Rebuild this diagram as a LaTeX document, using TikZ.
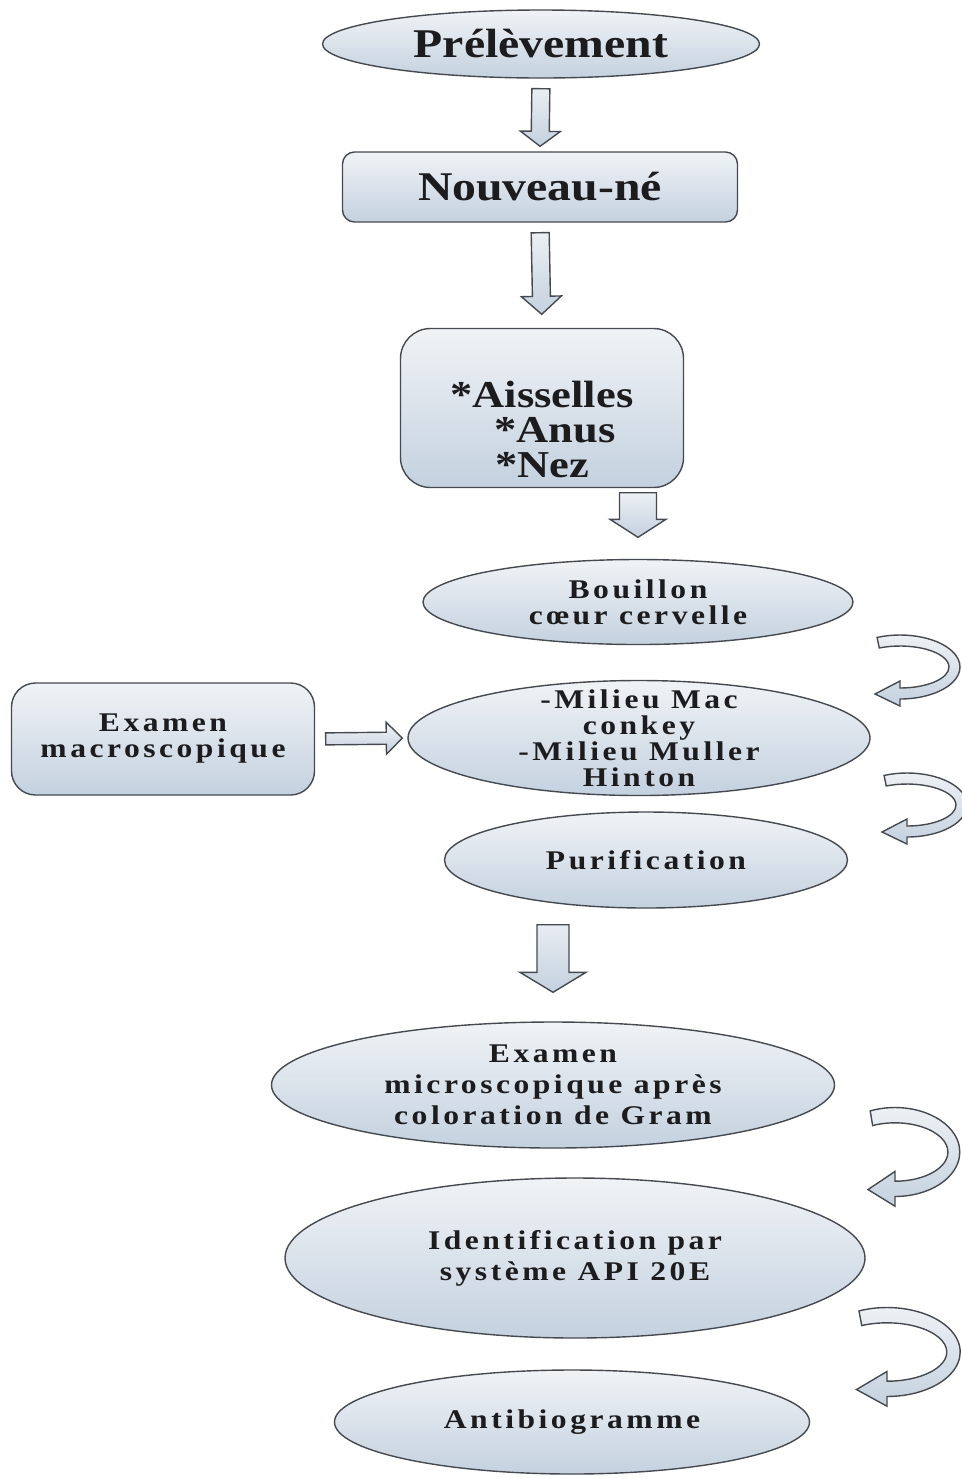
\documentclass[tikz,border=0pt]{standalone}
\usepackage{fontspec}
\setmainfont{Liberation Serif}[FakeStretch=1.17]
\newfontfamily\spacedfont{Liberation Serif}[FakeStretch=1.17,LetterSpace=13]
\usetikzlibrary{shapes.geometric,calc}
\definecolor{shapeline}{RGB}{70,74,80}
\definecolor{shapetop}{RGB}{240,243,246}
\definecolor{shapebottom}{RGB}{196,209,223}
\definecolor{textdark}{RGB}{28,28,30}
\tikzset{
  shadedbody/.style={draw=shapeline,line width=0.7pt,top color=shapetop,bottom color=shapebottom},
  box/.style={shadedbody,text=textdark,inner sep=0pt,align=center},
  oval/.style={box,ellipse,inner sep=-4pt},
  card/.style={box,rounded corners=#1},
  card/.default=6pt,
  bigtext/.style={font=\bfseries\fontsize{20.4}{22}\selectfont},
  smalltext/.style={font=\spacedfont\bfseries\fontsize{13.5}{13}\selectfont},
  blockarrow/.style n args={5}{shadedbody,
    to path={let \p1=($(\tikztostart)!#4!(\tikztotarget)$),
                 \p2=($(\tikztotarget)!#5!(\tikztostart)$) in
      ($(\p1)!#1!90:(\p2)$)
      -- ($(\p2)!{veclen(#3,#1)}!{-atan2(#1,#3)}:(\p1)$)
      -- ($(\p2)!{veclen(#3,#2)}!{-atan2(#2,#3)}:(\p1)$)
      -- (\p2)
      -- ($(\p2)!{veclen(#3,#2)}!{atan2(#2,#3)}:(\p1)$)
      -- ($(\p2)!{veclen(#3,#1)}!{atan2(#1,#3)}:(\p1)$)
      -- ($(\p1)!#1!-90:(\p2)$) -- cycle}},
  pics/uturn/.style={code={
    \path[shadedbody] (247.5:60 and 32)
      arc[start angle=247.5,end angle=450,x radius=60,y radius=32]
      -- (0,39) -- (-25,27) -- (0,14) -- (0,21)
      arc[start angle=90,end angle=-115,x radius=49,y radius=21] -- cycle;}}
}

\begin{document}
\begin{tikzpicture}[x=0.5pt,y=-0.5pt]
\path[fill=white] (0,0) rectangle (962,1479);
\useasboundingbox (0,0) rectangle (962,1479);
\node[oval,bigtext,minimum width=218.5pt,minimum height=34pt] (prel) at (541,44) {Prélèvement};
\node[card,bigtext,minimum width=197.5pt,minimum height=35pt] (nne) at (540,187) {Nouveau-né};
\node[card=15pt,font=\bfseries\fontsize{19}{17.5}\selectfont,minimum width=141.5pt,minimum height=79.5pt] (sites) at (542,408)
  {\rule{0pt}{35pt}*Aisselles\\\hspace{13pt}{*}Anus\\{*}Nez};
\node[oval,smalltext,minimum width=215pt,minimum height=42.5pt] (bouillon) at (638,602) {Bouillon\\cœur cervelle};
\node[card=12pt,smalltext,minimum width=151.5pt,minimum height=56pt] (macro) at (163,739) {Examen\\macroscopique};
\node[oval,smalltext,minimum width=231pt,minimum height=57.5pt,inner xsep=0pt,inner ysep=-12pt] (milieu) at (639,738)
  {-Milieu Mac\\conkey\\-Milieu Muller\\Hinton};
\node[oval,smalltext,minimum width=201.5pt,minimum height=48pt] (purif) at (646,860) {Purification};
\node[oval,smalltext,font=\spacedfont\bfseries\fontsize{13.5}{15.5}\selectfont,minimum width=281.5pt,minimum height=63pt] (micro) at (553,1085)
  {Examen\\microscopique après\\coloration de Gram};
\node[oval,smalltext,font=\spacedfont\bfseries\fontsize{13.5}{15.5}\selectfont,minimum width=290pt,minimum height=80pt] (ident) at (575,1258)
  {Identification par\\système API 20E};
\node[oval,smalltext,minimum width=237.5pt,minimum height=52pt] (anti) at (572,1422) {Antibiogramme};

\draw[blockarrow={4.5pt}{10pt}{7.5pt}{5pt}{2.5pt}] (prel.south) to (nne.north);
\draw[blockarrow={4.5pt}{10pt}{9pt}{5pt}{6.75pt}] (nne.south) to (sites.north);
\draw[blockarrow={9.25pt}{14pt}{9pt}{2.25pt}{10.75pt}] (sites.south -| bouillon.north) to (bouillon.north);
\draw[blockarrow={3pt}{8pt}{8pt}{5.25pt}{2.5pt}] (macro.east) to (milieu.west);
\draw[blockarrow={8pt}{16.5pt}{10pt}{8pt}{14.5pt}] (purif.south -| micro.north) to (micro.north);

\pic at (900,667) {uturn};
\pic at (907,805) {uturn};
\pic[xscale=1.08,yscale=1.39] at (895,1152) {uturn};
\pic[xscale=1.22,yscale=1.39] at (887,1352) {uturn};
\end{tikzpicture}
\end{document}
